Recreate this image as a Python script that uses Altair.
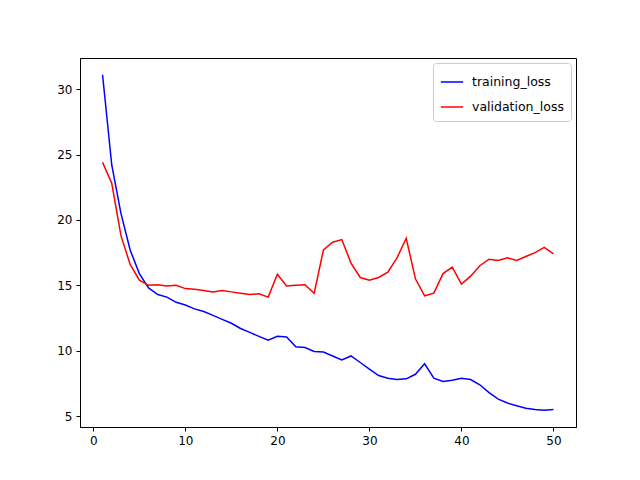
import altair as alt
import pandas as pd

epochs = list(range(1, 51))
training_loss = [31.1, 24.2, 20.5, 17.7, 15.9, 14.8, 14.3, 14.1, 13.7, 13.5,
                 13.2, 13.0, 12.7, 12.4, 12.1, 11.7, 11.4, 11.1, 10.8, 11.1,
                 11.05, 10.3, 10.25, 9.95, 9.9, 9.6, 9.3, 9.6, 9.1, 8.6,
                 8.1, 7.9, 7.8, 7.85, 8.2, 9.0, 7.9, 7.65, 7.75, 7.9,
                 7.8, 7.4, 6.8, 6.3, 6.0, 5.8, 5.6, 5.5, 5.45, 5.5]
validation_loss = [24.4, 22.8, 18.8, 16.6, 15.4, 15.0, 15.05, 14.95, 15.0, 14.75,
                   14.7, 14.6, 14.5, 14.6, 14.5, 14.4, 14.3, 14.35, 14.1, 15.85,
                   14.95, 15.0, 15.05, 14.4, 17.7, 18.3, 18.5, 16.7, 15.6, 15.4,
                   15.6, 16.0, 17.1, 18.6, 15.5, 14.2, 14.4, 15.9, 16.4, 15.1,
                   15.7, 16.5, 17.0, 16.9, 17.1, 16.9, 17.2, 17.5, 17.9, 17.4]

df = pd.concat([
    pd.DataFrame({"epoch": epochs, "loss": training_loss, "series": "training_loss"}),
    pd.DataFrame({"epoch": epochs, "loss": validation_loss, "series": "validation_loss"}),
])

chart = alt.Chart(df).mark_line(strokeWidth=1.5).encode(
    alt.X("epoch:Q", scale=alt.Scale(domain=[-1.45, 52.45], nice=False, zero=False),
          axis=alt.Axis(values=[0, 10, 20, 30, 40, 50], grid=False, title=None)),
    alt.Y("loss:Q", scale=alt.Scale(domain=[4.17, 32.38], nice=False, zero=False),
          axis=alt.Axis(values=[5, 10, 15, 20, 25, 30], grid=False, title=None)),
    color=alt.Color("series:N", scale=alt.Scale(domain=["training_loss", "validation_loss"],
                                                 range=["blue", "red"]),
                    legend=alt.Legend(title=None, orient="top-right", offset=5,
                                      symbolType="stroke", symbolSize=500, symbolStrokeWidth=1.5,
                                      labelFontSize=12.5, labelOffset=8, rowPadding=6,
                                      strokeColor="#cccccc", fillColor="white",
                                      padding=7, cornerRadius=3)),
).properties(
    width=496, height=369,
    autosize=alt.AutoSizeParams(type="none"),
    padding={"left": 72, "top": 50, "right": 56, "bottom": 45},
).configure_axis(
    labelFont="DejaVu Sans", labelFontSize=12, labelColor="black",
    domainColor="black", tickColor="black", tickSize=4, labelPadding=4,
).configure_legend(labelFont="DejaVu Sans").configure_view(stroke="black")

chart.save("out.html", embed_options={"renderer": "svg", "actions": False})
